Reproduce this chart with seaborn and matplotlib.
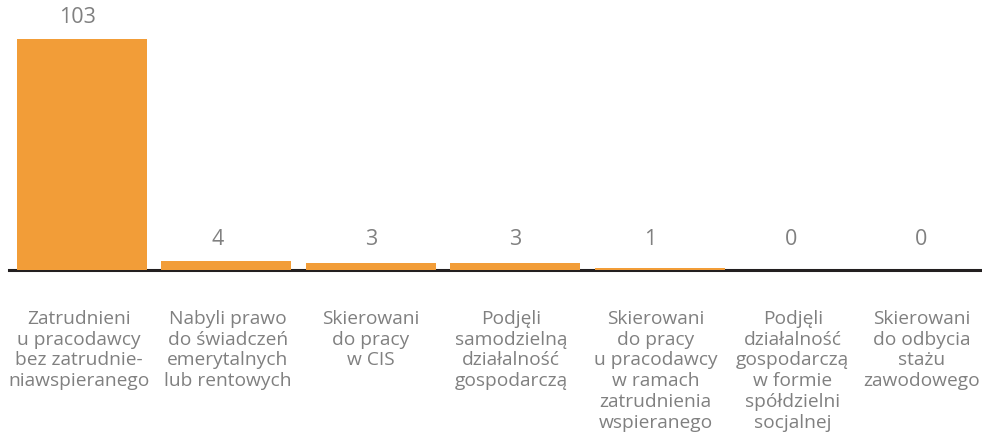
import numpy as np
import pandas as pd
import matplotlib
matplotlib.use("Agg")
import matplotlib.pyplot as plt
import seaborn as sns

# Dane
kategorie = [
    "Zatrudnieni\nu pracodawcy\nbez zatrudnie-\nniawspieranego",
    "Nabyli prawo\ndo świadczeń\nemerytalnych\nlub rentowych",
    "Skierowani\ndo pracy\nw CIS",
    "Podjęli\nsamodzielną\ndziałalność\ngospodarczą",
    "Skierowani\ndo pracy\nu pracodawcy\nw ramach\nzatrudnienia\nwspieranego",
    "Podjęli\ndziałalność\ngospodarczą\nw formie\nspółdzielni\nsocjalnej",
    "Skierowani\ndo odbycia\nstażu\nzawodowego",
]
wartosci = [103, 4, 3, 3, 1, 0, 0]

# przesunięcia etykiet (w jednostkach osi), żeby zmieściły się w obrazku
przesuniecie_etykiet = [-0.02, 0.01, 0.0, -0.03, -0.03, -0.08, -0.19]
przesuniecie_wartosci = [-0.03, -0.06, 0.0, 0.0, -0.07, -0.09, -0.19]
MIN_WYS_ETYKIETY = 4  # etykiety małych wartości stoją na jednej wysokości

df = pd.DataFrame({"kategoria": kategorie, "wartosc": wartosci})

sns.set_style("white")
plt.rcParams["font.family"] = ["Open Sans", "DejaVu Sans"]

SZARY = "#808080"
POMARANCZ = "#F29D38"

W, H = 982, 435
fig = plt.figure(figsize=(W / 100, H / 100), dpi=100)
# oś: od x=9 px do prawej krawędzi, od y=40 px (góra) do y=271 px (linia bazowa)
ax = fig.add_axes([9 / W, (H - 271) / H, 1 - 9 / W, 231 / H])

sns.barplot(data=df, x="kategoria", y="wartosc", color=POMARANCZ,
            width=0.9, saturation=1, ax=ax, zorder=3,
            edgecolor="none", linewidth=0)

ax.set_xlim(-0.505, 6.23)
ax.set_ylim(0, 103)

# etykiety wartości
for i, v in enumerate(wartosci):
    ax.annotate(str(v), (i + przesuniecie_wartosci[i], max(v, MIN_WYS_ETYKIETY)),
                xytext=(0, 9), textcoords="offset points", ha="center",
                va="bottom", fontsize=15.5, color=SZARY, annotation_clip=False)

ax.set_xticks(np.arange(len(kategorie)) + np.array(przesuniecie_etykiet))
ax.set_xticklabels(kategorie, fontsize=13.8, color=SZARY, linespacing=1.2,
                   ha="center", va="top")
ax.tick_params(axis="x", length=0, pad=28)
ax.set_yticks([])
ax.set_xlabel("")
ax.set_ylabel("")

for s in ["top", "left", "right"]:
    ax.spines[s].set_visible(False)
ax.spines["bottom"].set_color("#231f20")
ax.spines["bottom"].set_linewidth(2.2)
ax.spines["bottom"].set_zorder(1)

fig.savefig("out.png", dpi=100)
